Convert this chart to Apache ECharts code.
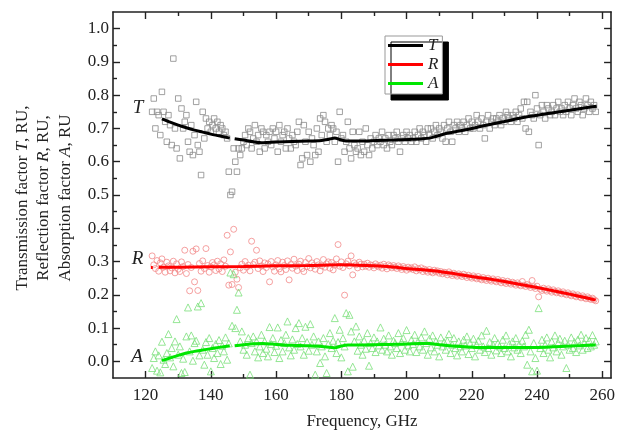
<!DOCTYPE html>
<html>
<head>
<meta charset="utf-8">
<script src="https://cdn.jsdelivr.net/npm/echarts@6/dist/echarts.min.js"></script>
<style>html,body{margin:0;padding:0;background:#fff;}#c{width:618px;height:435px;}</style>
</head>
<body>
<div id="c"></div>
<script>
// ---- data ----
const freqStart = 122, freqStep = 0.5; // measurement grid 122..258 GHz
const tScatter = [
0.75,0.79,0.70,0.75,0.74,0.68,0.81,0.75,0.72,0.66,
0.74,0.71,0.65,0.91,0.70,0.64,0.79,0.61,0.76,0.70,
0.72,0.74,0.66,0.63,0.71,0.62,0.68,0.78,0.65,0.63,
0.56,0.75,0.67,0.73,0.70,0.72,0.69,0.71,0.73,0.70,
0.72,0.69,0.71,0.70,0.68,0.69,0.67,0.57,0.50,0.51,
0.64,0.60,0.57,0.64,0.62,0.64,0.66,0.68,0.65,0.70,
0.69,0.64,0.67,0.71,0.66,0.68,0.63,0.70,0.69,0.64,
0.68,0.66,0.69,0.65,0.70,0.67,0.69,0.63,0.71,0.66,
0.68,0.69,0.64,0.70,0.67,0.64,0.68,0.66,0.65,0.69,
0.72,0.59,0.61,0.71,0.66,0.62,0.69,0.60,0.67,0.65,
0.62,0.70,0.63,0.73,0.68,0.74,0.72,0.66,0.70,0.68,
0.71,0.70,0.66,0.69,0.60,0.75,0.67,0.68,0.63,0.66,
0.72,0.64,0.61,0.69,0.65,0.63,0.64,0.69,0.62,0.66,
0.63,0.70,0.65,0.62,0.67,0.64,0.66,0.68,0.65,0.67,
0.66,0.69,0.65,0.67,0.64,0.68,0.66,0.65,0.68,0.67,
0.69,0.66,0.63,0.67,0.68,0.66,0.69,0.67,0.68,0.66,
0.67,0.69,0.66,0.68,0.70,0.67,0.69,0.68,0.66,0.70,
0.68,0.70,0.67,0.69,0.71,0.68,0.70,0.69,0.67,0.71,
0.66,0.70,0.72,0.69,0.66,0.71,0.70,0.72,0.69,0.71,
0.70,0.72,0.69,0.71,0.73,0.70,0.72,0.70,0.71,0.74,
0.72,0.70,0.73,0.71,0.67,0.72,0.74,0.70,0.72,0.73,
0.71,0.73,0.72,0.74,0.71,0.73,0.72,0.75,0.74,0.73,
0.72,0.74,0.73,0.75,0.72,0.74,0.76,0.73,0.78,0.70,
0.78,0.69,0.75,0.74,0.73,0.80,0.76,0.65,0.74,0.77,
0.75,0.73,0.77,0.76,0.74,0.75,0.77,0.74,0.76,0.78,
0.75,0.76,0.74,0.77,0.75,0.78,0.76,0.74,0.77,0.79,
0.76,0.75,0.78,0.77,0.74,0.76,0.79,0.77,0.75,0.78,
0.76,0.77,0.75
];
const rScatter = [
0.317,0.290,0.279,0.303,0.271,0.296,0.308,0.283,0.268,0.298,
0.287,0.272,0.281,0.301,0.266,0.293,0.277,0.270,0.299,0.285,
0.334,0.264,0.291,0.212,0.282,0.331,0.239,0.338,0.213,0.294,
0.271,0.302,0.279,0.339,0.288,0.268,0.284,0.297,0.290,0.273,
0.301,0.278,0.293,0.270,0.305,0.286,0.379,0.229,0.329,0.231,
0.397,0.268,0.247,0.222,0.281,0.292,0.274,0.300,0.283,0.289,
0.272,0.361,0.291,0.298,0.334,0.279,0.302,0.287,0.270,0.296,
0.282,0.293,0.239,0.300,0.284,0.271,0.290,0.303,0.278,0.269,
0.298,0.288,0.276,0.302,0.245,0.291,0.280,0.307,0.286,0.273,
0.292,0.301,0.279,0.270,0.297,0.285,0.309,0.281,0.296,0.288,
0.277,0.300,0.290,0.272,0.287,0.306,0.283,0.293,0.299,0.280,
0.297,0.275,0.289,0.308,0.351,0.286,0.299,0.282,0.199,0.293,
0.301,0.287,0.317,0.260,0.296,0.290,0.281,0.298,0.292,0.284,
0.292,0.286,0.295,0.283,0.290,0.288,0.281,0.293,0.287,0.284,
0.289,0.280,0.292,0.285,0.278,0.290,0.286,0.281,0.288,0.283,
0.279,0.287,0.282,0.276,0.285,0.280,0.274,0.283,0.278,0.281,
0.276,0.284,0.272,0.279,0.275,0.281,0.270,0.277,0.273,0.268,
0.276,0.270,0.266,0.274,0.269,0.272,0.265,0.270,0.263,0.268,
0.266,0.260,0.269,0.263,0.258,0.265,0.261,0.256,0.263,0.259,
0.255,0.262,0.257,0.252,0.259,0.254,0.250,0.257,0.252,0.248,
0.255,0.249,0.245,0.252,0.247,0.243,0.250,0.245,0.241,0.248,
0.243,0.239,0.246,0.241,0.236,0.243,0.238,0.234,0.241,0.236,
0.232,0.238,0.234,0.229,0.236,0.231,0.227,0.240,0.229,0.225,
0.231,0.227,0.222,0.243,0.224,0.219,0.226,0.194,0.217,0.213,
0.220,0.215,0.211,0.218,0.213,0.208,0.215,0.210,0.206,0.212,
0.207,0.203,0.209,0.204,0.200,0.206,0.201,0.197,0.203,0.198,
0.194,0.200,0.195,0.191,0.197,0.192,0.188,0.194,0.189,0.186,
0.190,0.185,0.182
];
const aScatter = [
-0.020,0.010,0.030,-0.028,0.018,-0.033,0.059,0.005,-0.008,0.025,
0.082,0.012,0.040,-0.015,0.060,0.127,0.020,0.045,-0.035,0.008,
-0.032,0.075,0.162,0.030,0.078,0.002,0.055,0.062,0.165,0.018,
0.175,0.035,-0.010,0.058,0.020,0.070,-0.030,0.040,0.010,0.052,
0.025,0.064,-0.008,0.047,0.030,0.072,0.005,0.054,0.267,0.107,
0.262,0.100,0.155,0.207,0.060,0.090,0.035,0.050,0.020,0.070,
-0.040,0.055,0.075,0.030,0.060,0.012,0.045,0.080,0.025,0.060,
0.038,0.015,0.103,0.052,0.070,0.028,0.047,0.102,0.010,0.064,
0.030,0.055,0.080,0.120,0.042,0.018,0.066,0.035,0.100,0.052,
0.115,0.045,0.070,0.020,0.104,0.058,0.032,0.112,0.050,0.075,
-0.040,0.030,0.060,-0.005,0.045,0.070,0.015,-0.035,0.052,0.085,
0.040,0.062,0.130,0.025,0.058,0.095,0.012,0.070,0.045,0.145,
-0.030,0.140,0.090,-0.016,0.060,0.105,0.032,0.075,0.050,0.020,
0.062,0.038,0.085,-0.013,0.055,0.040,0.072,0.028,0.060,0.048,
0.102,0.035,0.068,0.050,0.030,0.078,0.045,0.020,0.062,0.055,
0.040,0.085,0.025,0.058,0.070,0.035,0.094,0.048,0.030,0.065,
0.052,0.080,0.028,0.060,0.045,0.072,0.035,0.090,0.055,0.020,
0.068,0.042,0.078,0.030,0.060,0.050,0.015,0.072,0.045,0.058,
0.035,0.062,0.082,0.025,0.050,0.070,0.040,0.018,0.060,0.045,
0.030,0.065,0.048,0.075,0.022,0.055,0.040,0.068,0.015,0.050,
0.062,0.035,0.078,0.045,0.028,0.092,0.040,0.058,0.020,0.050,
0.070,0.033,0.055,0.045,0.025,0.065,0.040,0.078,0.030,0.052,
0.015,0.060,0.042,0.070,0.035,0.050,0.025,0.062,0.045,0.080,
-0.010,0.095,0.030,-0.030,0.055,0.010,-0.028,0.160,0.040,0.065,
0.025,0.050,0.072,0.035,0.012,0.060,0.042,0.078,0.030,0.055,
0.068,0.020,0.045,0.062,-0.020,0.050,0.035,0.072,0.040,0.058,
0.028,0.065,0.048,0.080,0.035,0.055,0.070,0.040,0.062,0.045,
0.079,0.050,0.060
];
// fitted curves: [frequency, value]; '-' breaks the line
const tFit = [[125,0.729],[127.5,0.719],[130,0.710],[132.5,0.702],[135,0.695],[137.5,0.689],[140,0.683],[142.5,0.678],[145.8,0.671],[146.5,'-'],
[147.3,0.669],[150,0.665],[153,0.660],[156,0.657],[160,0.659],[165,0.661],[170,0.662],[174,0.664],[176,0.667],[178,0.671],[179.5,0.667],[181.5,0.662],
[186,0.662],[191,0.664],[196,0.665],[201,0.667],[205,0.669],[207,0.671],[209,0.676],[211,0.682],[215,0.690],[220,0.700],[224,0.709],[230,0.721],
[237,0.735],[244,0.746],[250,0.755],[254,0.761],[258.3,0.767]];
const rFit = [[121.6,0.282],[122.2,0.282],[123,'-'],[124,0.283],[130,0.283],[140,0.284],[150,0.285],[160,0.287],[170,0.288],[180,0.290],[185,0.289],
[190,0.287],[195,0.284],[200,0.279],[205,0.275],[210,0.270],[215,0.263],[220,0.255],[225,0.248],[230,0.240],[235,0.231],[240,0.222],
[245,0.212],[250,0.202],[255,0.191],[258,0.184]];
const aFit = [[125,0.002],[127.5,0.010],[130,0.018],[132.5,0.025],[135,0.030],[137.5,0.034],[140,0.038],[142.5,0.042],[145.8,0.047],[146.5,'-'],
[147.3,0.047],[150,0.050],[153,0.053],[156,0.054],[159,0.052],[162,0.049],[166,0.048],[170,0.047],[174,0.045],[178,0.041],[180,0.046],[182,0.049],
[186,0.049],[190,0.050],[195,0.051],[200,0.052],[204,0.054],[207,0.054],[210,0.050],[213,0.047],[218,0.044],[223,0.042],[230,0.042],
[235,0.042],[240,0.042],[245,0.044],[250,0.046],[254,0.048],[258,0.049]];
const xTicks = [120,140,160,180,200,220,240,260];
const xMinor = [130,150,170,190,210,230,250];
const yTicks = [0,0.1,0.2,0.3,0.4,0.5,0.6,0.7,0.8,0.9,1.0];
const yMinor = [0.05,0.15,0.25,0.35,0.45,0.55,0.65,0.75,0.85,0.95];

// ---- chart ----
const pair = arr => arr.map((v, i) => [freqStart + i * freqStep, v]);
const FONT = "'Liberation Serif','Times New Roman',serif";
const AX = '#222';
function xAx(pos, vals, len, labels, line) {
  return {type:'value', position:pos, min:110, max:262.7, splitLine:{show:false},
    axisLine:{show:line, onZero:false, lineStyle:{color:AX, width:1.6}},
    axisTick:{show:true, inside:true, length:len, customValues:vals, lineStyle:{color:AX, width:1.4}},
    axisLabel:{show:labels, customValues:vals, margin:9, color:'#222', fontFamily:FONT, fontSize:17},
    name: labels ? 'Frequency, GHz' : '', nameLocation:'middle', nameGap:35,
    nameTextStyle:{fontFamily:FONT, fontSize:17, color:'#222'}};
}
function yAx(pos, vals, len, labels, line) {
  return {type:'value', position:pos, min:-0.05, max:1.05, splitLine:{show:false},
    axisLine:{show:line, onZero:false, lineStyle:{color:AX, width:1.6}},
    axisTick:{show:true, inside:true, length:len, customValues:vals, lineStyle:{color:AX, width:1.4}},
    axisLabel:{show:labels, customValues:vals, margin:4, color:'#222', fontFamily:FONT, fontSize:17,
      formatter: v => v.toFixed(1)}};
}
const chart = echarts.init(document.getElementById('c'), null, {renderer:'canvas'});
chart.setOption({
  animation:false,
  backgroundColor:'#fff',
  grid:{left:113, right:5, top:12, bottom:56},
  xAxis:[xAx('bottom', xTicks, 7, true, true), xAx('bottom', xMinor, 4, false, false),
         xAx('top', xTicks, 7, false, true), xAx('top', xMinor, 4, false, false)],
  yAxis:[yAx('left', yTicks, 7, true, true), yAx('left', yMinor, 4, false, false),
         yAx('right', yTicks, 7, false, true), yAx('right', yMinor, 4, false, false)],
  legend:{data:['T','R','A'], orient:'vertical', left:385, top:36, padding:[1,4,2,3], itemGap:2,
    icon:'rect', itemWidth:35, itemHeight:3, backgroundColor:'#fff', borderColor:'#999', borderWidth:1,
    shadowColor:'#000', shadowBlur:0, shadowOffsetX:6, shadowOffsetY:6,
    textStyle:{fontFamily:FONT, fontStyle:'italic', fontSize:17, color:'#222'}},
  graphic:[
    {type:'text', x:44, y:198, rotation:Math.PI/2, style:{
      text:'Transmission factor {i|T}, RU,\nReflection factor {i|R}, RU,\nAbsorption factor {i|A}, RU',
      rich:{i:{fontStyle:'italic', fontFamily:FONT, fontSize:17, fill:'#222'}},
      fontFamily:FONT, fontSize:17, fill:'#222', align:'center', verticalAlign:'middle', lineHeight:21.5}},
    {type:'text', x:138, y:108, style:{text:'T', fontFamily:FONT, fontStyle:'italic', fontSize:19, fill:'#222', align:'center', verticalAlign:'middle'}},
    {type:'text', x:137.5, y:259, style:{text:'R', fontFamily:FONT, fontStyle:'italic', fontSize:19, fill:'#222', align:'center', verticalAlign:'middle'}},
    {type:'text', x:137, y:357, style:{text:'A', fontFamily:FONT, fontStyle:'italic', fontSize:19, fill:'#222', align:'center', verticalAlign:'middle'}}
  ],
  series:[
    {name:'T data', type:'scatter', data:pair(tScatter), symbol:'rect', symbolSize:5.5,
      itemStyle:{color:'rgba(0,0,0,0)', borderColor:'#8a8a8a', borderWidth:1}},
    {name:'R data', type:'scatter', data:pair(rScatter), symbol:'circle', symbolSize:6,
      itemStyle:{color:'rgba(0,0,0,0)', borderColor:'#f28a8a', borderWidth:1}},
    {name:'A data', type:'scatter', data:pair(aScatter), symbol:'triangle', symbolSize:7,
      itemStyle:{color:'rgba(0,0,0,0)', borderColor:'#7ae07a', borderWidth:1}},
    {name:'T', type:'line', data:tFit, symbol:'none', smooth:0.3, color:'#000', lineStyle:{color:'#000', width:3}, z:5},
    {name:'R', type:'line', data:rFit, symbol:'none', smooth:0.3, color:'#ff0000', lineStyle:{color:'#ff0000', width:3}, z:5},
    {name:'A', type:'line', data:aFit, symbol:'none', smooth:0.3, color:'#00e600', lineStyle:{color:'#00e600', width:3}, z:5}
  ]
});
</script>
</body>
</html>
